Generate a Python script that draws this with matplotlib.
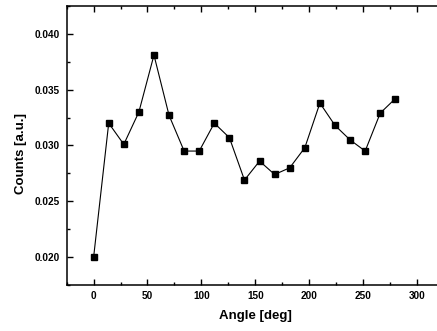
import matplotlib
matplotlib.use("Agg")
import matplotlib.pyplot as plt
from matplotlib.ticker import MultipleLocator

angles = [0, 14, 28, 42, 56, 70, 84, 98, 112, 126, 140, 154, 168, 182, 196, 210, 224, 238, 252, 266, 280]
counts = [0.0200, 0.0320, 0.0301, 0.0330, 0.0381, 0.0327, 0.0295, 0.0295, 0.0320, 0.0307,
          0.0269, 0.0286, 0.0274, 0.0280, 0.0298, 0.0338, 0.0318, 0.0305, 0.0295, 0.0329, 0.0342]

plt.rcParams['font.family'] = ['Liberation Sans', 'DejaVu Sans']
plt.rcParams['font.weight'] = 'bold'

fig = plt.figure(figsize=(4.37, 3.31), dpi=100)
ax = fig.add_axes([0.1526, 0.139, 0.863, 0.843])
ax.plot(angles, counts, color='black', lw=0.8, marker='s', markersize=4.5,
        markerfacecolor='black', markeredgecolor='black')
ax.set_xlim(-25, 325)
ax.set_ylim(0.0175, 0.0425)
ax.xaxis.set_major_locator(MultipleLocator(50))
ax.xaxis.set_minor_locator(MultipleLocator(25))
ax.yaxis.set_major_locator(MultipleLocator(0.005))
ax.yaxis.set_minor_locator(MultipleLocator(0.0025))
ax.yaxis.set_major_formatter(matplotlib.ticker.FormatStrFormatter('%.3f'))
ax.tick_params(which='both', direction='in', top=True, right=True, width=1.0, labelsize=7.2)
ax.tick_params(which='major', length=4)
ax.tick_params(which='minor', length=2.5)
ax.tick_params(axis='x', pad=4)
ax.tick_params(axis='y', pad=5)
for s in ax.spines.values():
    s.set_linewidth(1.1)
for lab in ax.get_xticklabels() + ax.get_yticklabels():
    lab.set_fontweight('bold')
ax.set_xlabel('Angle [deg]', fontsize=9.5, fontweight='bold')
ax.set_ylabel('Counts [a.u.]', fontsize=9.5, fontweight='bold')
ax.xaxis.set_label_coords(0.5, -0.088)
ax.yaxis.set_label_coords(-0.106, 0.47)
fig.savefig('out.png', dpi=100)
